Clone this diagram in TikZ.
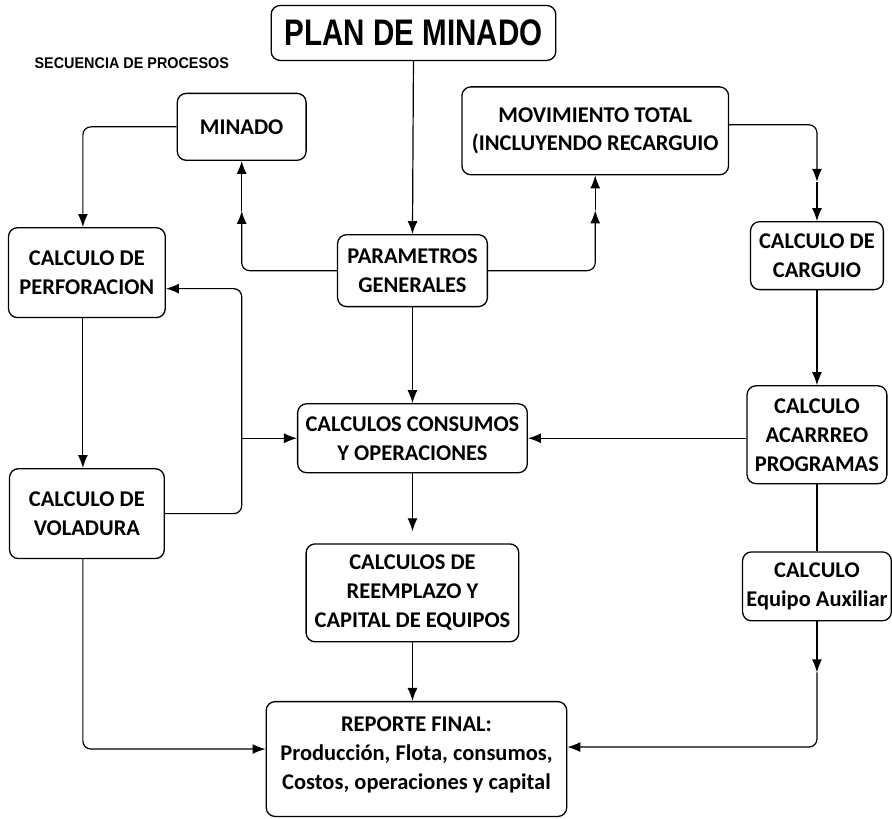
\documentclass[tikz,border=0pt]{standalone}
\usepackage{fontspec}
\usetikzlibrary{arrows.meta,positioning,calc}
\newfontfamily\boxfont{Carlito}
\newfontfamily\titlefont[FakeStretch=0.8]{Liberation Sans}
\newfontfamily\headfont[FakeStretch=0.93]{Liberation Sans}
\tikzset{
  procbox/.style={draw=black, line width=1.3pt, rounded corners=9pt, align=center,
    inner sep=0pt, font=\boxfont\bfseries\fontsize{22.5}{29}\selectfont},
  titlebox/.style={procbox, minimum width=285pt, minimum height=55pt,
    font=\titlefont\bfseries\fontsize{37}{40}\selectfont},
  headtext/.style={font=\headfont\bfseries\fontsize{15.5}{17}\selectfont},
  link/.style={line width=1.2pt, rounded corners=8pt},
  arc/.style={link, -{Latex[length=13pt,width=10pt]}},
}

\begin{document}
\begin{tikzpicture}[x=1pt,y=-1pt]
    \fill[white] (0,0) rectangle (892,820);
    \node[headtext] (seq) at (132,63) {SECUENCIA DE PROCESOS};
    \node[titlebox] (plan) at (414,33) {PLAN DE MINADO};
    % upper row
    \node[procbox, minimum width=129pt, minimum height=67pt] (minado) at (242,127) {MINADO};
    \node[procbox, minimum width=267pt, minimum height=88pt] (movim) at (596,131) {MOVIMIENTO TOTAL\\(INCLUYENDO RECARGUIO};
    \node[procbox, minimum width=150pt, minimum height=72pt] (param) at (413,271) {PARAMETROS\\GENERALES};
    \node[procbox, minimum width=157pt, minimum height=90pt] (perf) at (87,273) {CALCULO DE\\PERFORACION};
    \node[procbox, minimum width=133pt, minimum height=68pt] (carguio) at (818,256) {CALCULO DE\\CARGUIO};
    % lower rows
    \node[procbox, minimum width=230pt, minimum height=69pt, below=96pt of param] (consumos) {CALCULOS CONSUMOS\\Y OPERACIONES};
    \node[procbox, minimum width=155pt, minimum height=90pt, below=150pt of perf] (voladura) {CALCULO DE\\VOLADURA};
    \node[procbox, minimum width=140pt, minimum height=98pt, below=95pt of carguio] (acarreo) {CALCULO\\ACARRREO\\PROGRAMAS};
    \node[procbox, minimum width=213pt, minimum height=98pt, below=70pt of consumos] (reemplazo) {CALCULOS DE\\REEMPLAZO Y\\CAPITAL DE EQUIPOS};
    \node[procbox, minimum width=149pt, minimum height=69pt, below=67pt of acarreo] (auxiliar) {CALCULO\\Equipo Auxiliar};
    \node[procbox, minimum width=301pt, minimum height=115pt] (reporte) at (417,760) {REPORTE FINAL:\\Producción, Flota, consumos,\\Costos, operaciones y capital\rule[-12pt]{0pt}{12pt}};
    % helper points
    \coordinate (minMid) at ($(minado.south)+(0,50)$);
    \coordinate (movMid) at ($(movim.south)+(0,35)$);
    \coordinate (carMid) at (818,182);
    \coordinate (fbTop) at (242,289);
    \coordinate (fbJoin) at (fbTop |- consumos.west);
    \coordinate (auxMid) at ($(auxiliar.south)+(0,51)$);
    % connectors
    \draw[arc] (plan.south) -- (param.north);
    \draw[arc] (param.west) -| (minMid);
    \draw[arc] (minMid) -- (minado.south);
    \draw[arc] (param.east) -| (movMid);
    \draw[arc] (movMid) -- (movim.south);
    \draw[arc] ([yshift=6pt]movim.east) -| (carMid);
    \draw[arc] (carMid) -- (carguio.north);
    \draw[arc] (minado.west) -| ([xshift=-4pt]perf.north);
    \draw[arc] ([xshift=-4pt]perf.south) -- ([xshift=-4pt]voladura.north);
    \draw[arc] (voladura.east) -| (fbTop) -- ([yshift=-16pt]perf.east);
    \draw[arc] (fbJoin) -- (consumos.west);
    \draw[arc] (param.south) -- (consumos.north);
    \draw[arc, shorten >=12pt] (consumos.south) -- (reemplazo.north);
    \draw[arc] (reemplazo.south) -- (reemplazo.south |- reporte.north);
    \draw[arc] (carguio.south) -- (acarreo.north);
    \draw[arc] (consumos.east -| acarreo.west) -- (consumos.east);
    \draw[link] (acarreo.south) -- (auxiliar.north);
    \draw[arc] (auxiliar.south) -- (auxMid);
    \draw[arc] (auxMid) |- ([yshift=12pt]reporte.east);
    \draw[arc] ([xshift=-4pt]voladura.south) |- ([yshift=10pt]reporte.west);
\end{tikzpicture}
\end{document}
